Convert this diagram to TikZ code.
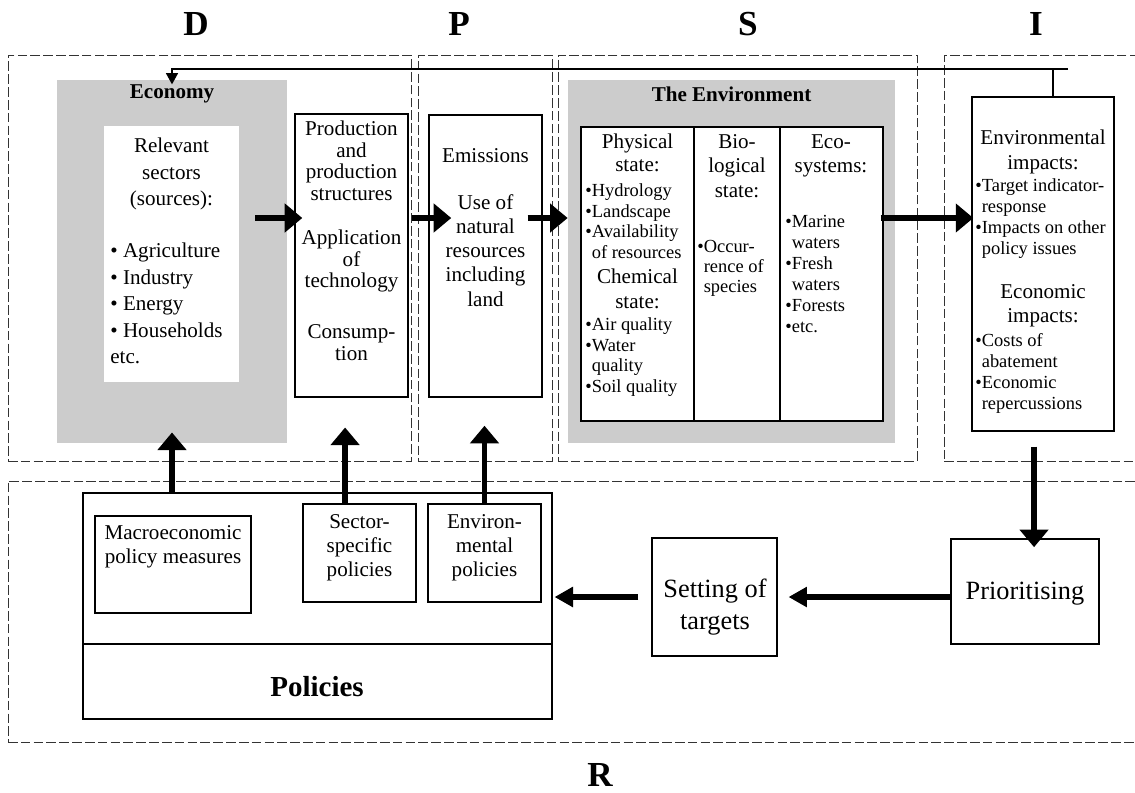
\documentclass[tikz,border=0pt]{standalone}
\usepackage{fontspec}
\setmainfont{Liberation Serif}
\usepackage{tikz}
\usetikzlibrary{positioning,arrows.meta,fit}

\newcommand{\bgap}{\hphantom{\textbullet}}

\begin{document}
\begin{tikzpicture}[x=0.02cm,y=-0.02cm]
\tikzstyle{every node}+=[inner sep=0pt]
\tikzstyle{dbox}=[draw=black!80, line width=0.5pt, dash pattern=on 5.5pt off 1.8pt]
\tikzstyle{box}=[draw, line width=0.7pt]
\tikzstyle{txt}=[align=center, font=\fontsize{12}{13.6}\selectfont]
\tikzstyle{lst}=[align=left, anchor=north west, font=\fontsize{10.5}{11.9}\selectfont]
\tikzstyle{letter}=[font=\fontsize{20}{22}\selectfont\bfseries]
\tikzstyle{flow}=[line width=3pt, -{Triangle[length=10pt,width=16pt]}]
\tikzstyle{flowb}=[line width=3pt, -{Triangle[length=10.5pt,width=11pt]}]
\tikzstyle{feedback}=[line width=1.7pt, -{Triangle[length=6.5pt,width=6.5pt]}]
\useasboundingbox (0,0) rectangle (1135,792);

% D P S I R
\node[letter] (dl) at (196,24) {D};
\node[letter] (pl) at (459,24) {P};
\node[letter] (sl) at (748,24) {S};
\node[letter] (il) at (1036,24) {I};
\node[letter] (rl) at (600,775) {R};

\node[dbox, fit={(8,55) (411,461)}] (dframe) {};
\node[dbox, fit={(418,55) (552,461)}] (pframe) {};
\node[dbox, fit={(558,55) (917,461)}] (sframe) {};
\node[dbox, fit={(944,55) (1140,461)}] (iframe) {};
\node[dbox, fit={(8,481) (1140,742)}] (rframe) {};

% driving forces
\node[fill=black!20, fit={(57,80) (287,443)}] (econ) {};
\node[font=\fontsize{12}{14}\selectfont\bfseries] (econlbl) at (172,94) {Economy};
\node[fill=white, fit={(104,126) (239,382)}] (relev) {};
\node[txt, anchor=north, font=\fontsize{12}{15}\selectfont] (relhd) at (171.5,138) {Relevant\\sectors\\(sources):};
\node[txt, align=left, anchor=north west, font=\fontsize{12}{15}\selectfont] (rellst) at (110,243)
  {\textbullet\ Agriculture\\\textbullet\ Industry\\\textbullet\ Energy\\\textbullet\ Households\\etc.};
\node[box, fit={(295,114) (408,397)}] (prod) {};
\node[txt, anchor=north, font=\fontsize{12}{12.2}\selectfont] (prodtxt) at (351.5,121)
  {Production\\and\\production\\structures\\[13pt]Application\\of\\technology\\[17pt]Consump-\\tion};

% pressures
\node[box, fit={(429,115) (542,397)}] (emis) {};
\node[txt, anchor=north, font=\fontsize{12}{13.8}\selectfont] (emistxt) at (485.5,148)
  {Emissions\\[12.8pt]Use of\\natural\\resources\\including\\land};

% state
\node[fill=black!20, fit={(568,80) (895,443)}] (envgray) {};
\node[font=\fontsize{12}{14}\selectfont\bfseries] (envlbl) at (731.5,94) {The Environment};
\node[box, fill=white, fit={(581,127) (883,421)}] (state) {};
\draw[line width=0.7pt] (694,127) -- (694,421);
\draw[line width=0.7pt] (780,127) -- (780,421);
\node[txt, anchor=north, font=\fontsize{12}{13}\selectfont] (phyhd) at (637.5,134) {Physical\\state:};
\node[lst] (phylst) at (585,183) {\textbullet Hydrology\\\textbullet Landscape\\\textbullet Availability\\\bgap of resources};
\node[txt, anchor=north, font=\fontsize{12}{14}\selectfont] (chemhd) at (637.5,269) {Chemical\\state:};
\node[lst] (chemlst) at (585,317) {\textbullet Air quality\\\textbullet Water\\\bgap quality\\\textbullet Soil quality};
\node[txt, anchor=north, font=\fontsize{12}{13.9}\selectfont] (biohd) at (737,134) {Bio-\\logical\\state:};
\node[lst, font=\fontsize{10.5}{11.3}\selectfont] (biolst) at (697,240) {\textbullet Occur-\\\bgap rence of\\\bgap species};
\node[txt, anchor=north, font=\fontsize{12}{14}\selectfont] (ecohd) at (831,134) {Eco-\\systems:};
\node[lst] (ecolst) at (785,215) {\textbullet Marine\\\bgap waters\\\textbullet Fresh\\\bgap waters\\\textbullet Forests\\\textbullet etc.};

% impacts
\node[box, fit={(972,97) (1114,431)}] (impact) {};
\node[txt, anchor=north, font=\fontsize{12}{14}\selectfont] (envimphd) at (1043,130) {Environmental\\impacts:};
\node[lst, font=\fontsize{10.5}{12}\selectfont] (envimplst) at (975,178)
  {\textbullet Target indicator-\\\bgap response\\\textbullet Impacts on other\\\bgap policy issues};
\node[txt, anchor=north, font=\fontsize{12}{14}\selectfont] (ecoimphd) at (1043,284) {Economic\\impacts:};
\node[lst, font=\fontsize{10.5}{12}\selectfont] (ecoimplst) at (975,333)
  {\textbullet Costs of\\\bgap abatement\\\textbullet Economic\\\bgap repercussions};

% response
\node[box, fit={(83,493) (552,719)}] (pol) {};
\draw[line width=0.7pt] (83,644) -- (552,644);
\node[font=\fontsize{16.5}{18}\selectfont\bfseries] (pollbl) at (317,687) {Policies};
\node[box, fit={(95,516) (251,613)}] (macro) {};
\node[txt, anchor=north] (macrotxt) at (173,525) {Macroeconomic\\policy measures};
\node[box, fit={(303,504) (416,602)}] (sect) {};
\node[txt, anchor=north] (secttxt) at (359.5,514) {Sector-\\specific\\policies};
\node[box, fit={(428,504) (541,602)}] (envpol) {};
\node[txt, anchor=north] (envpoltxt) at (484.5,514) {Environ-\\mental\\policies};
\node[box, fit={(652,538) (777,656)}] (target) {};
\node[txt, font=\fontsize{15}{18}\selectfont] (targettxt) at (715,607) {Setting of\\targets};
\node[box, fit={(951,539) (1099,644)}] (prior) {};
\node[font=\fontsize{15}{18}\selectfont] (priortxt) at (1025,594) {Prioritising};

% arrows
\coordinate (mid) at (0,218);
\coordinate (low) at (0,597);
\coordinate (fbend) at (1068,69);
\draw[flow, shorten <=9pt, shorten >=-4.5pt] (relev.east |- mid) -- (prod.west |- mid);
\draw[flow, shorten <=1.7pt, shorten >=-13pt] (prod.east |- mid) -- (emis.west |- mid);
\draw[flow, shorten <=-8.5pt] (emis.east |- mid) -- (envgray.west |- mid);
\draw[flow, shorten <=-1.7pt, shorten >=-1.1pt] (state.east |- mid) -- (impact.west |- mid);
\draw[flow, shorten >=-6.2pt] (pol.north -| econ) -- (econ.south);
\draw[flow, shorten >=17pt] ([xshift=-8.2pt]sect.north) -- ([xshift=-8.2pt]sect.north |- prod.south);
\draw[flow, shorten >=16pt] (envpol.north) -- (envpol.north |- emis.south);
\draw[flow, shorten <=8.5pt, shorten >=-5pt] ([xshift=-5.1pt]impact.south) -- ([xshift=-5.1pt]impact.south |- prior.north);
\draw[flowb, shorten >=6.2pt] (prior.west |- low) -- (target.east |- low);
\draw[flowb, shorten <=7.4pt, shorten >=1.1pt] (target.west |- low) -- (pol.east |- low);
\draw[feedback, shorten >=-2.8pt] (fbend) -| (econ.north);
\draw[line width=0.8pt] ([xshift=5.7pt]impact.north) -- ([xshift=5.7pt]impact.north |- fbend);
\end{tikzpicture}
\end{document}
